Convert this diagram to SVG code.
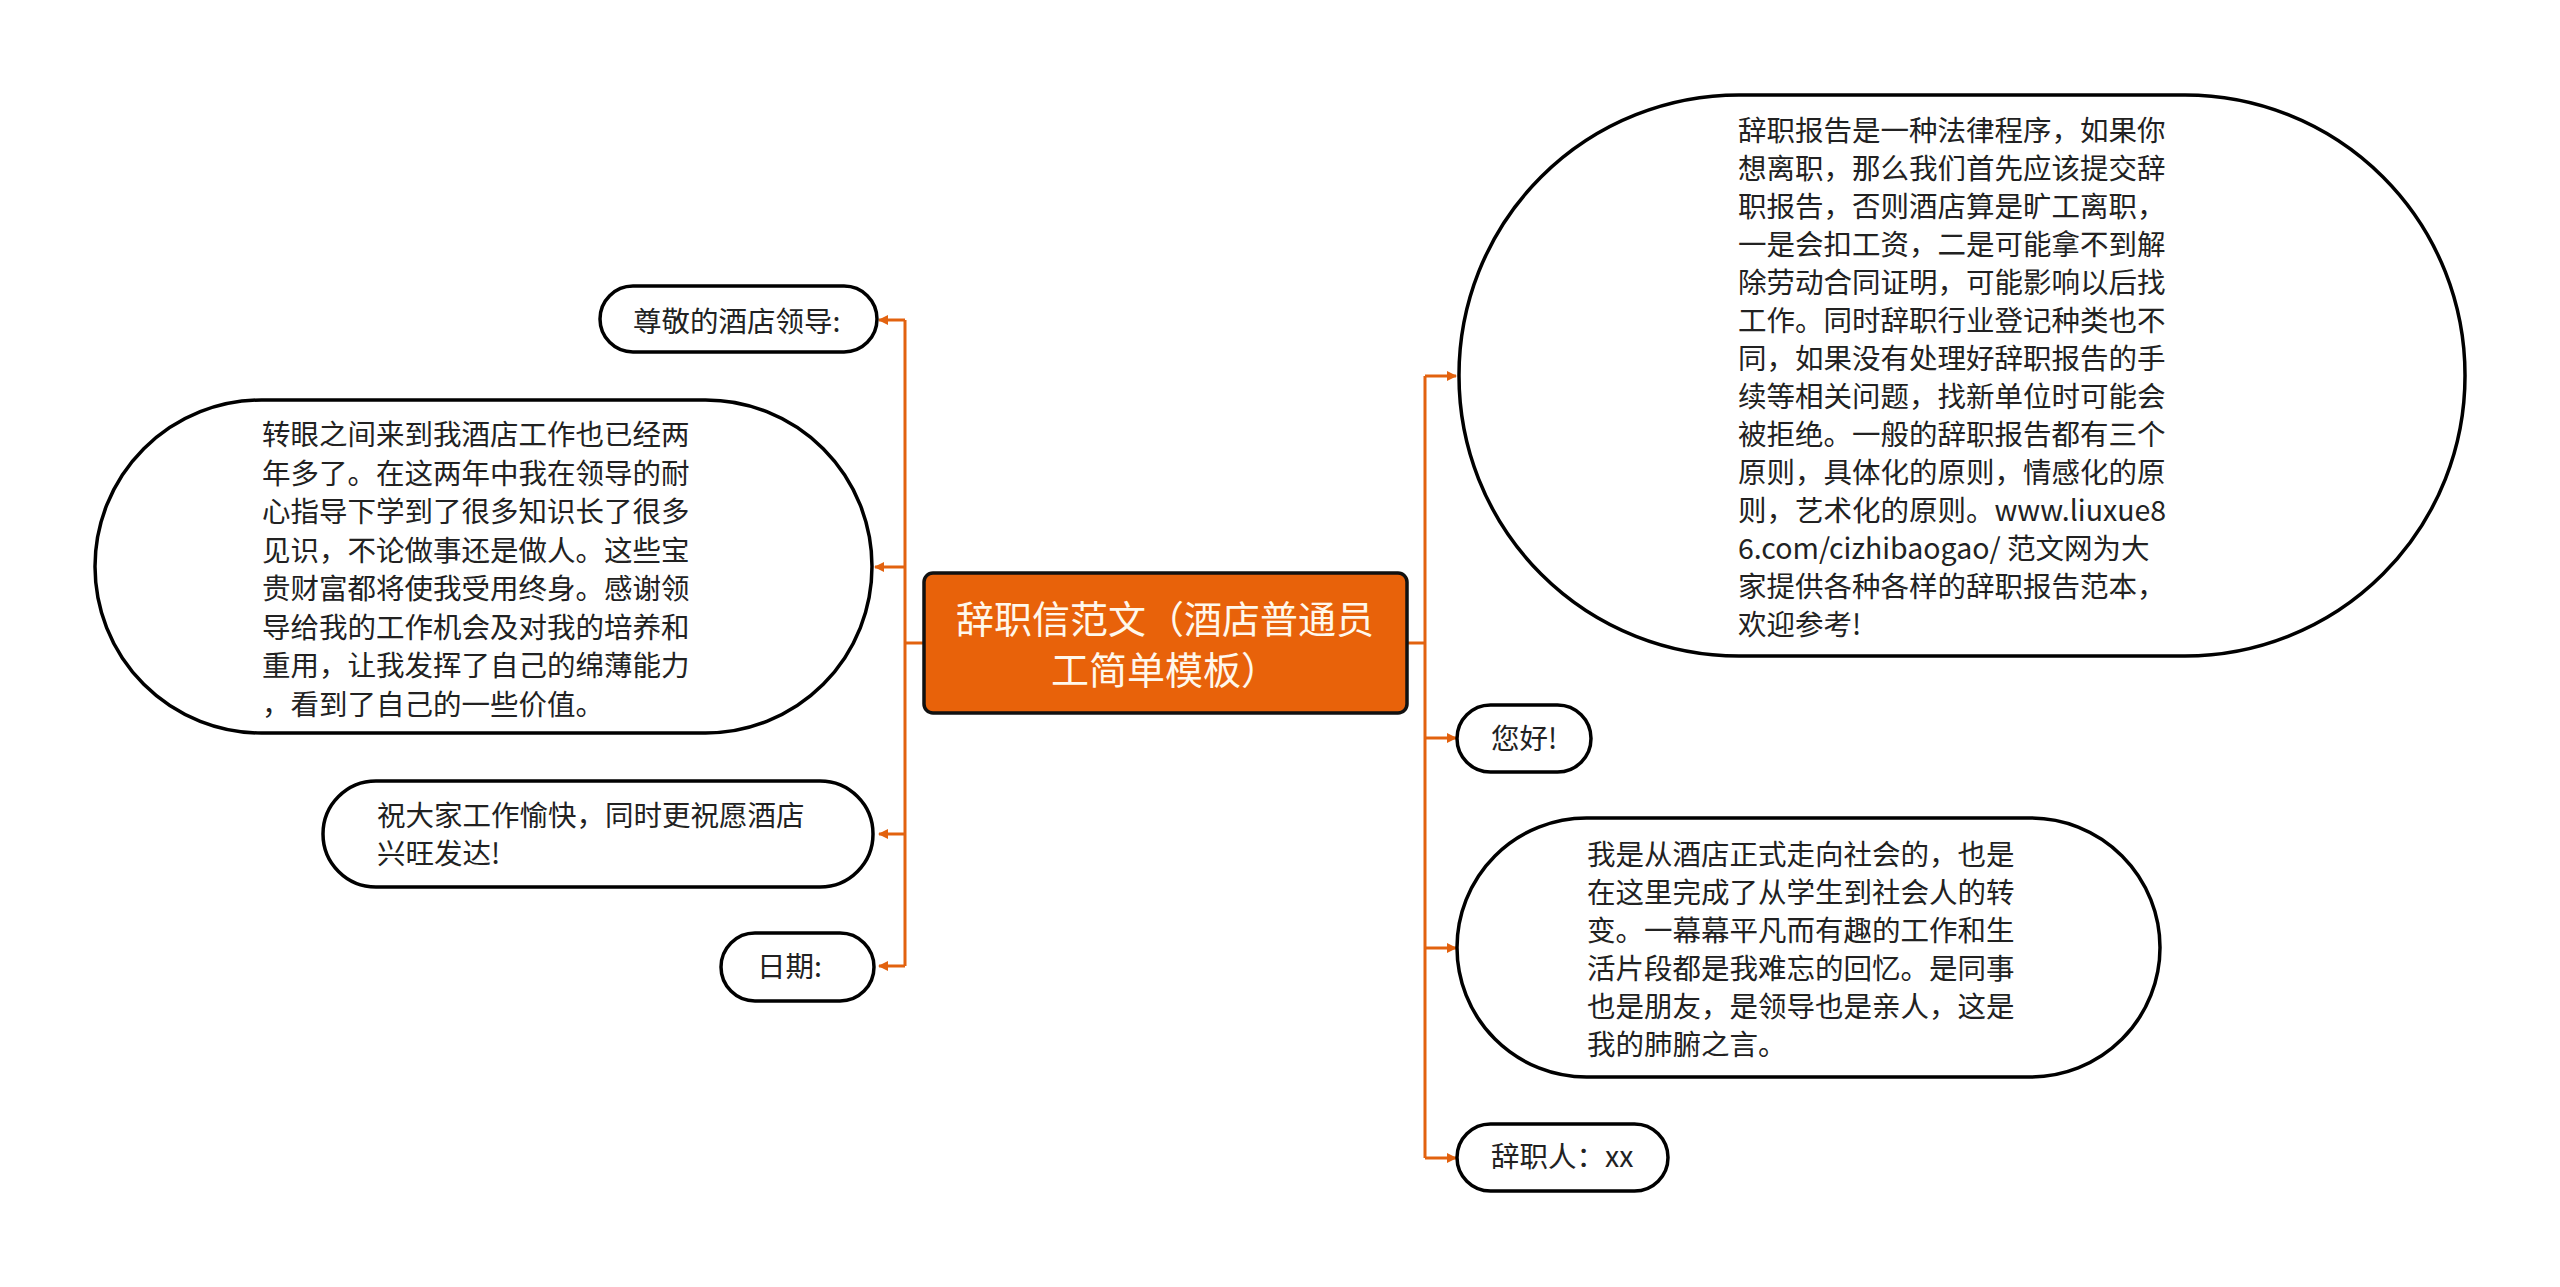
<svg xmlns="http://www.w3.org/2000/svg" width="2560" height="1287" viewBox="0 0 2560 1287">
<style>
.node{fill:#fff;stroke:#000;stroke-width:3.5}
.t{font-family:"Noto Sans CJK SC","Noto Sans",sans-serif;font-size:28.5px;fill:#222}
.c{fill:none;stroke:#E2620F;stroke-width:3}
.root{fill:#E8620A;stroke:#111;stroke-width:3.5}
.rt{font-family:"Noto Sans CJK SC","Noto Sans",sans-serif;font-size:38px;fill:#FFF8EC;text-anchor:middle}
</style>
<defs>
<marker id="ah" viewBox="0 0 10 10" refX="9" refY="5" markerWidth="10" markerHeight="10" markerUnits="userSpaceOnUse" orient="auto">
<path d="M0,0 L10,5 L0,10 Z" fill="#E2620F"/>
</marker>
</defs>
<rect width="2560" height="1287" fill="#fff"/>
<g id="connectors">
<path class="c" d="M924,643 H905"/>
<path class="c" d="M905,320 V966"/>
<path class="c" d="M905,320 H879" marker-end="url(#ah)"/>
<path class="c" d="M905,567 H875" marker-end="url(#ah)"/>
<path class="c" d="M905,834 H879" marker-end="url(#ah)"/>
<path class="c" d="M905,966 H879" marker-end="url(#ah)"/>
<path class="c" d="M1407,643 H1425"/>
<path class="c" d="M1425,376 V1158"/>
<path class="c" d="M1425,376 H1456" marker-end="url(#ah)"/>
<path class="c" d="M1425,738 H1456" marker-end="url(#ah)"/>
<path class="c" d="M1425,948 H1456" marker-end="url(#ah)"/>
<path class="c" d="M1425,1158 H1456" marker-end="url(#ah)"/>
</g>
<g id="root">
<rect class="root" x="924" y="573" width="483" height="140" rx="9"/>
<text class="rt" x="1165" y="633">辞职信范文（酒店普通员</text>
<text class="rt" x="1165" y="684">工简单模板）</text>
</g>
<g id="n1">
<rect class="node" x="600" y="286" width="277" height="66" rx="33"/>
<text class="t" x="633" y="332">尊敬的酒店领导:</text>
</g>
<g id="n2">
<rect class="node" x="95" y="400" width="777" height="333" rx="166.5"/>
<text class="t" x="262" y="445">转眼之间来到我酒店工作也已经两</text>
<text class="t" x="262" y="483.5">年多了。在这两年中我在领导的耐</text>
<text class="t" x="262" y="522">心指导下学到了很多知识长了很多</text>
<text class="t" x="262" y="560.5">见识，不论做事还是做人。这些宝</text>
<text class="t" x="262" y="599">贵财富都将使我受用终身。感谢领</text>
<text class="t" x="262" y="637.5">导给我的工作机会及对我的培养和</text>
<text class="t" x="262" y="676">重用，让我发挥了自己的绵薄能力</text>
<text class="t" x="262" y="714.5">，看到了自己的一些价值。</text>
</g>
<g id="n3">
<rect class="node" x="323" y="781" width="550" height="106" rx="53"/>
<text class="t" x="377" y="826">祝大家工作愉快，同时更祝愿酒店</text>
<text class="t" x="377" y="864">兴旺发达!</text>
</g>
<g id="n4">
<rect class="node" x="721" y="933" width="153" height="68" rx="34"/>
<text class="t" x="757" y="977">日期:</text>
</g>
<g id="n5">
<rect class="node" x="1459" y="95" width="1006" height="561" rx="280"/>
<text class="t" x="1738" y="141">辞职报告是一种法律程序，如果你</text>
<text class="t" x="1738" y="179">想离职，那么我们首先应该提交辞</text>
<text class="t" x="1738" y="217">职报告，否则酒店算是旷工离职，</text>
<text class="t" x="1738" y="255">一是会扣工资，二是可能拿不到解</text>
<text class="t" x="1738" y="293">除劳动合同证明，可能影响以后找</text>
<text class="t" x="1738" y="331">工作。同时辞职行业登记种类也不</text>
<text class="t" x="1738" y="369">同，如果没有处理好辞职报告的手</text>
<text class="t" x="1738" y="407">续等相关问题，找新单位时可能会</text>
<text class="t" x="1738" y="445">被拒绝。一般的辞职报告都有三个</text>
<text class="t" x="1738" y="483">原则，具体化的原则，情感化的原</text>
<text class="t" x="1738" y="521">则，艺术化的原则。www.liuxue8</text>
<text class="t" x="1738" y="559">6.com/cizhibaogao/ 范文网为大</text>
<text class="t" x="1738" y="597">家提供各种各样的辞职报告范本，</text>
<text class="t" x="1738" y="635">欢迎参考!</text>
</g>
<g id="n6">
<rect class="node" x="1457" y="705" width="134" height="67" rx="33.5"/>
<text class="t" x="1491" y="749">您好!</text>
</g>
<g id="n7">
<rect class="node" x="1457" y="818" width="703" height="259" rx="129.5"/>
<text class="t" x="1587" y="865">我是从酒店正式走向社会的，也是</text>
<text class="t" x="1587" y="903">在这里完成了从学生到社会人的转</text>
<text class="t" x="1587" y="941">变。一幕幕平凡而有趣的工作和生</text>
<text class="t" x="1587" y="979">活片段都是我难忘的回忆。是同事</text>
<text class="t" x="1587" y="1017">也是朋友，是领导也是亲人，这是</text>
<text class="t" x="1587" y="1055">我的肺腑之言。</text>
</g>
<g id="n8">
<rect class="node" x="1457" y="1124" width="211" height="67" rx="33.5"/>
<text class="t" x="1491" y="1167">辞职人：xx</text>
</g>
</svg>
